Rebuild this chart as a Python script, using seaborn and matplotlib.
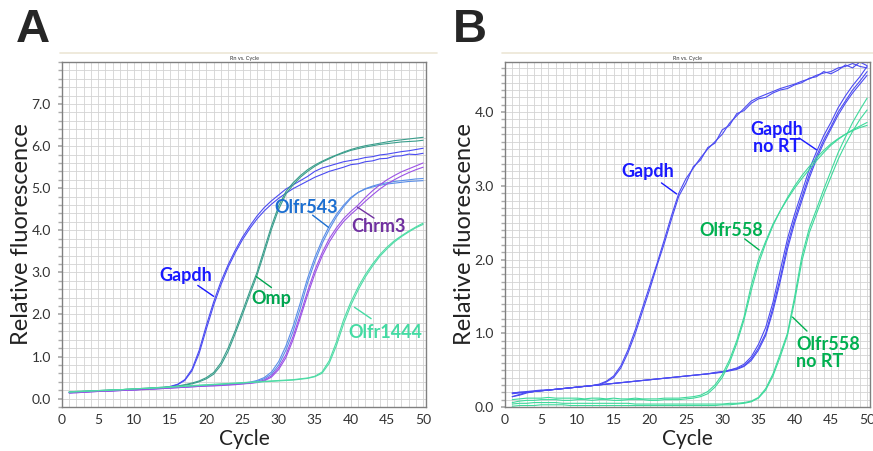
import numpy as np
import seaborn as sns
import matplotlib.pyplot as plt
from matplotlib.lines import Line2D
from matplotlib.ticker import MultipleLocator

cycles = list(range(1, 51))

# panel A traces (Rn per cycle)
a_gapdh_1 = [0.15, 0.16, 0.17, 0.17, 0.18, 0.19, 0.20, 0.20, 0.21, 0.22,
             0.23, 0.24, 0.25, 0.26, 0.29, 0.34, 0.45, 0.70, 1.15, 1.75,
             2.30, 2.78, 3.18, 3.53, 3.84, 4.10, 4.34, 4.54, 4.70, 4.84,
             4.98, 5.08, 5.18, 5.28, 5.40, 5.48, 5.53, 5.58, 5.63, 5.66,
             5.69, 5.73, 5.75, 5.79, 5.81, 5.84, 5.87, 5.89, 5.92, 5.95]
a_gapdh_2 = [0.14, 0.15, 0.16, 0.17, 0.18, 0.18, 0.19, 0.20, 0.21, 0.22,
             0.22, 0.23, 0.24, 0.26, 0.28, 0.33, 0.43, 0.66, 1.08, 1.66,
             2.22, 2.70, 3.12, 3.47, 3.78, 4.04, 4.27, 4.46, 4.62, 4.76,
             4.88, 4.99, 5.08, 5.17, 5.26, 5.33, 5.40, 5.45, 5.50, 5.56,
             5.58, 5.63, 5.65, 5.70, 5.71, 5.76, 5.77, 5.81, 5.80, 5.83]
a_omp_1 = [0.16, 0.17, 0.17, 0.18, 0.19, 0.20, 0.20, 0.21, 0.22, 0.23,
           0.24, 0.25, 0.26, 0.27, 0.28, 0.30, 0.33, 0.37, 0.42, 0.50,
           0.62, 0.85, 1.20, 1.62, 2.08, 2.55, 3.00, 3.55, 4.10, 4.58,
           4.92, 5.13, 5.30, 5.44, 5.55, 5.64, 5.72, 5.79, 5.86, 5.92,
           5.97, 6.01, 6.04, 6.07, 6.10, 6.13, 6.15, 6.17, 6.19, 6.21]
a_omp_2 = [0.15, 0.16, 0.17, 0.18, 0.18, 0.19, 0.20, 0.21, 0.22, 0.22,
           0.23, 0.24, 0.25, 0.26, 0.27, 0.29, 0.32, 0.35, 0.40, 0.47,
           0.58, 0.79, 1.12, 1.55, 2.00, 2.47, 2.93, 3.46, 4.02, 4.50,
           4.86, 5.08, 5.26, 5.40, 5.52, 5.62, 5.70, 5.78, 5.84, 5.90,
           5.94, 5.98, 6.01, 6.04, 6.06, 6.08, 6.10, 6.11, 6.12, 6.14]
a_olfr543_1 = [0.14, 0.15, 0.16, 0.17, 0.18, 0.18, 0.19, 0.20, 0.21, 0.21,
               0.22, 0.23, 0.24, 0.25, 0.26, 0.27, 0.28, 0.29, 0.30, 0.31,
               0.32, 0.33, 0.34, 0.35, 0.36, 0.38, 0.41, 0.47, 0.58, 0.80,
               1.15, 1.60, 2.15, 2.75, 3.25, 3.68, 4.02, 4.32, 4.56, 4.76,
               4.90, 4.99, 5.05, 5.10, 5.13, 5.16, 5.18, 5.20, 5.22, 5.23]
a_olfr543_2 = [0.15, 0.15, 0.16, 0.17, 0.17, 0.18, 0.19, 0.20, 0.20, 0.21,
               0.22, 0.23, 0.24, 0.25, 0.26, 0.27, 0.28, 0.29, 0.30, 0.31,
               0.32, 0.33, 0.34, 0.35, 0.37, 0.39, 0.43, 0.50, 0.63, 0.88,
               1.25, 1.72, 2.28, 2.86, 3.35, 3.76, 4.10, 4.38, 4.60, 4.78,
               4.90, 4.98, 5.03, 5.07, 5.10, 5.12, 5.14, 5.16, 5.17, 5.18]
a_chrm3_1 = [0.13, 0.14, 0.15, 0.16, 0.17, 0.18, 0.18, 0.19, 0.20, 0.21,
             0.22, 0.22, 0.23, 0.24, 0.25, 0.26, 0.27, 0.28, 0.29, 0.30,
             0.31, 0.32, 0.33, 0.34, 0.35, 0.37, 0.39, 0.44, 0.54, 0.74,
             1.04, 1.48, 2.00, 2.55, 3.05, 3.46, 3.80, 4.06, 4.28, 4.45,
             4.60, 4.78, 4.94, 5.08, 5.20, 5.30, 5.39, 5.46, 5.53, 5.60]
a_chrm3_2 = [0.14, 0.14, 0.15, 0.16, 0.17, 0.17, 0.18, 0.19, 0.20, 0.20,
             0.21, 0.22, 0.23, 0.24, 0.25, 0.26, 0.27, 0.28, 0.29, 0.30,
             0.30, 0.31, 0.32, 0.33, 0.35, 0.36, 0.38, 0.42, 0.51, 0.69,
             0.97, 1.40, 1.92, 2.46, 2.96, 3.38, 3.72, 3.99, 4.21, 4.38,
             4.53, 4.69, 4.84, 4.98, 5.10, 5.20, 5.29, 5.37, 5.44, 5.50]
a_olfr1444_1 = [0.16, 0.17, 0.18, 0.18, 0.19, 0.20, 0.21, 0.21, 0.22, 0.23,
                0.24, 0.25, 0.26, 0.27, 0.28, 0.29, 0.30, 0.31, 0.32, 0.33,
                0.34, 0.35, 0.36, 0.37, 0.38, 0.39, 0.40, 0.41, 0.42, 0.43,
                0.44, 0.45, 0.47, 0.49, 0.53, 0.63, 0.90, 1.35, 1.88, 2.30,
                2.65, 2.95, 3.20, 3.42, 3.60, 3.75, 3.87, 3.98, 4.08, 4.17]
a_olfr1444_2 = [0.15, 0.16, 0.17, 0.18, 0.19, 0.19, 0.20, 0.21, 0.22, 0.23,
                0.24, 0.24, 0.25, 0.26, 0.27, 0.28, 0.29, 0.30, 0.31, 0.32,
                0.33, 0.34, 0.35, 0.36, 0.37, 0.38, 0.39, 0.40, 0.41, 0.42,
                0.43, 0.44, 0.46, 0.48, 0.52, 0.60, 0.84, 1.26, 1.78, 2.22,
                2.58, 2.89, 3.15, 3.38, 3.56, 3.72, 3.85, 3.96, 4.06, 4.14]

# panel B traces
b_gapdh_1 = [0.19, 0.20, 0.20, 0.21, 0.22, 0.23, 0.24, 0.25, 0.26, 0.27,
             0.28, 0.29, 0.31, 0.35, 0.42, 0.56, 0.78, 1.05, 1.35, 1.65,
             1.95, 2.27, 2.60, 2.90, 3.10, 3.24, 3.38, 3.50, 3.60, 3.70,
             3.85, 3.95, 4.05, 4.15, 4.20, 4.24, 4.28, 4.32, 4.35, 4.38,
             4.42, 4.45, 4.50, 4.53, 4.55, 4.60, 4.62, 4.66, 4.62, 4.60]
b_gapdh_2 = [0.14, 0.17, 0.20, 0.21, 0.22, 0.23, 0.24, 0.25, 0.26, 0.27,
             0.28, 0.29, 0.30, 0.34, 0.40, 0.53, 0.74, 1.00, 1.30, 1.60,
             1.92, 2.22, 2.55, 2.86, 3.04, 3.26, 3.35, 3.52, 3.58, 3.76,
             3.82, 3.98, 4.02, 4.12, 4.18, 4.20, 4.26, 4.30, 4.32, 4.37,
             4.40, 4.46, 4.48, 4.55, 4.52, 4.57, 4.64, 4.60, 4.68, 4.63]
b_gapdh_nort_1 = [0.14, 0.16, 0.19, 0.21, 0.22, 0.23, 0.24, 0.25, 0.26, 0.27,
                  0.28, 0.29, 0.30, 0.31, 0.32, 0.33, 0.34, 0.35, 0.36, 0.37,
                  0.38, 0.39, 0.40, 0.41, 0.42, 0.43, 0.44, 0.45, 0.47, 0.48,
                  0.50, 0.52, 0.56, 0.65, 0.80, 1.00, 1.35, 1.75, 2.20, 2.55,
                  2.85, 3.15, 3.40, 3.62, 3.80, 4.00, 4.15, 4.30, 4.42, 4.55]
b_gapdh_nort_2 = [0.19, 0.20, 0.21, 0.22, 0.23, 0.23, 0.24, 0.25, 0.26, 0.27,
                  0.28, 0.29, 0.30, 0.31, 0.32, 0.33, 0.34, 0.35, 0.36, 0.37,
                  0.38, 0.39, 0.40, 0.41, 0.42, 0.43, 0.44, 0.45, 0.46, 0.48,
                  0.50, 0.53, 0.58, 0.68, 0.85, 1.08, 1.42, 1.85, 2.28, 2.62,
                  2.92, 3.22, 3.46, 3.68, 3.86, 4.06, 4.22, 4.36, 4.48, 4.62]
b_gapdh_nort_3 = [0.18, 0.19, 0.20, 0.21, 0.22, 0.23, 0.24, 0.25, 0.26, 0.27,
                  0.28, 0.29, 0.30, 0.31, 0.32, 0.33, 0.34, 0.35, 0.36, 0.37,
                  0.38, 0.39, 0.40, 0.41, 0.42, 0.43, 0.44, 0.45, 0.46, 0.47,
                  0.49, 0.51, 0.55, 0.63, 0.77, 0.97, 1.30, 1.70, 2.14, 2.50,
                  2.80, 3.10, 3.36, 3.58, 3.77, 3.96, 4.12, 4.26, 4.38, 4.50]
b_olfr558_1 = [0.10, 0.11, 0.12, 0.12, 0.12, 0.13, 0.12, 0.12, 0.12, 0.12,
               0.11, 0.12, 0.12, 0.11, 0.12, 0.11, 0.11, 0.12, 0.11, 0.11,
               0.11, 0.12, 0.12, 0.12, 0.13, 0.14, 0.16, 0.21, 0.30, 0.44,
               0.64, 0.90, 1.22, 1.65, 2.00, 2.25, 2.48, 2.66, 2.82, 2.97,
               3.10, 3.22, 3.34, 3.45, 3.55, 3.63, 3.70, 3.76, 3.81, 3.86]
b_olfr558_2 = [0.06, 0.08, 0.09, 0.09, 0.10, 0.10, 0.10, 0.09, 0.09, 0.10,
               0.10, 0.09, 0.10, 0.10, 0.09, 0.09, 0.10, 0.10, 0.10, 0.09,
               0.09, 0.10, 0.10, 0.10, 0.11, 0.12, 0.14, 0.18, 0.27, 0.40,
               0.60, 0.86, 1.18, 1.58, 1.94, 2.22, 2.46, 2.66, 2.84, 3.00,
               3.14, 3.26, 3.38, 3.48, 3.57, 3.64, 3.70, 3.75, 3.79, 3.82]
b_olfr558_nort_1 = [0.04, 0.05, 0.05, 0.06, 0.06, 0.06, 0.06, 0.05, 0.05, 0.05,
                    0.05, 0.05, 0.05, 0.05, 0.05, 0.05, 0.05, 0.04, 0.04, 0.04,
                    0.04, 0.04, 0.04, 0.04, 0.04, 0.04, 0.04, 0.04, 0.04, 0.04,
                    0.05, 0.05, 0.06, 0.08, 0.13, 0.25, 0.45, 0.72, 1.00, 1.50,
                    2.05, 2.42, 2.68, 2.95, 3.20, 3.45, 3.66, 3.86, 4.03, 4.19]
b_olfr558_nort_2 = [0.01, 0.02, 0.02, 0.02, 0.03, 0.03, 0.03, 0.03, 0.02, 0.02,
                    0.02, 0.02, 0.02, 0.02, 0.02, 0.02, 0.02, 0.02, 0.02, 0.02,
                    0.02, 0.02, 0.02, 0.02, 0.02, 0.02, 0.02, 0.02, 0.02, 0.03,
                    0.03, 0.04, 0.05, 0.07, 0.12, 0.23, 0.42, 0.68, 0.97, 1.44,
                    1.98, 2.36, 2.62, 2.88, 3.12, 3.36, 3.56, 3.74, 3.90, 4.03]

x_ticks = [0, 5, 10, 15, 20, 25, 30, 35, 40, 45, 50]
a_y_ticks = [0, 1, 2, 3, 4, 5, 6, 7]
b_y_ticks = [0, 1, 2, 3, 4]

blue = "#4b4bf2"
teal = "#3a9e8c"
lblue = "#5a8ee8"
purple = "#9b52e6"
aqua = "#4fdca6"
green = "#3ed99b"

sns.set_theme(style="white")
plt.rcParams["font.family"] = ["Lato", "DejaVu Sans"]

fig = plt.figure(figsize=(8.73, 4.51), dpi=100)
ax_a = fig.add_axes([62 / 873, 44 / 451, 364 / 873, 345 / 451])
ax_b = fig.add_axes([505 / 873, 44 / 451, 365 / 873, 345 / 451])

for vals, col in [(a_gapdh_1, blue), (a_gapdh_2, blue), (a_omp_1, teal), (a_omp_2, teal),
                  (a_olfr543_1, lblue), (a_olfr543_2, lblue), (a_chrm3_1, purple),
                  (a_chrm3_2, purple), (a_olfr1444_1, aqua), (a_olfr1444_2, aqua)]:
    sns.lineplot(x=cycles, y=vals, ax=ax_a, color=col, lw=0.8)

for vals, col in [(b_gapdh_1, blue), (b_gapdh_2, blue), (b_gapdh_nort_1, blue),
                  (b_gapdh_nort_2, blue), (b_gapdh_nort_3, blue), (b_olfr558_1, green),
                  (b_olfr558_2, green), (b_olfr558_nort_1, green), (b_olfr558_nort_2, green)]:
    sns.lineplot(x=cycles, y=vals, ax=ax_b, color=col, lw=0.8)

for ax, yticks, ylim, ystep in [(ax_a, a_y_ticks, (-0.2, 8.0), 0.2),
                                (ax_b, b_y_ticks, (0, 4.68), 0.1)]:
    ax.set_xlim(0, 50.4)
    ax.set_ylim(*ylim)
    ax.set_xticks(x_ticks)
    ax.set_yticks(yticks)
    ax.set_yticklabels([f"{t:.1f}" for t in yticks])
    ax.xaxis.set_minor_locator(MultipleLocator(1))
    ax.yaxis.set_minor_locator(MultipleLocator(ystep))
    ax.grid(True, which="both", color="#d3d3d3", lw=0.6)
    ax.set_axisbelow(True)
    ax.tick_params(axis="both", which="major", labelsize=10, labelcolor="#333333",
                   length=0, pad=5)
    ax.tick_params(axis="y", which="minor", length=3, color="#aaaaaa", left=True)
    ax.tick_params(axis="y", which="major", length=3, color="#aaaaaa", left=True)
    for s in ax.spines.values():
        s.set_color("#808080")
        s.set_linewidth(1.0)
    ax.set_xlabel("Cycle", fontsize=15, color="#222222", labelpad=2)
    ax.set_ylabel("Relative fluorescence", fontsize=17, color="#222222", labelpad=0)
    ax.set_title("Rn vs. Cycle", fontsize=4, pad=1.5, color="#333333")


def tag(ax, text, tx, ty, px, py, qx, qy, col, ha="center"):
    ax.text(tx, ty, text, color=col, fontsize=13, fontweight="bold", ha=ha,
            va="center", linespacing=1.0)
    ax.annotate("", xy=(qx, qy), xytext=(px, py),
                arrowprops=dict(arrowstyle="-", color=col, lw=1.0, shrinkA=0, shrinkB=0))


tag(ax_a, "Gapdh", 17.1, 2.93, 18.8, 2.69, 21.0, 2.43, "#1a1aff")
tag(ax_a, "Omp", 29.0, 2.38, 26.9, 2.90, 29.0, 2.64, "#00a550")
tag(ax_a, "Olfr543", 33.8, 4.55, 34.7, 4.36, 36.9, 4.07, "#1c6fd1")
tag(ax_a, "Chrm3", 43.8, 4.10, 40.9, 4.55, 43.2, 4.29, "#7030a0")
tag(ax_a, "Olfr1444", 44.8, 1.57, 40.5, 2.17, 42.8, 1.90, "#45dba3")

tag(ax_b, "Gapdh", 19.7, 3.19, 21.6, 3.04, 23.7, 2.89, "#1a1aff")
tag(ax_b, "Gapdh\nno RT", 37.5, 3.65, 40.6, 3.65, 43.0, 3.49, "#1a1aff")
tag(ax_b, "Olfr558", 31.3, 2.40, 33.1, 2.28, 35.1, 2.13, "#00b050")
tag(ax_b, "Olfr558\nno RT", 40.2, 0.73, 39.7, 1.22, 41.7, 1.03, "#00b050", ha="left")

# panel letters and the thin header bars
fig.text(33 / 873, 1 - 30 / 451, "A", fontsize=34, fontweight="bold",
         family="Liberation Sans", ha="center", va="center")
fig.text(470 / 873, 1 - 30 / 451, "B", fontsize=34, fontweight="bold",
         family="Liberation Sans", ha="center", va="center")
for x0, x1 in [(60, 437), (502, 873)]:
    fig.add_artist(Line2D([x0 / 873, x1 / 873], [1 - 53 / 451, 1 - 53 / 451],
                          color="#ece6d6", lw=1.2))

fig.savefig("out.png", dpi=100)
